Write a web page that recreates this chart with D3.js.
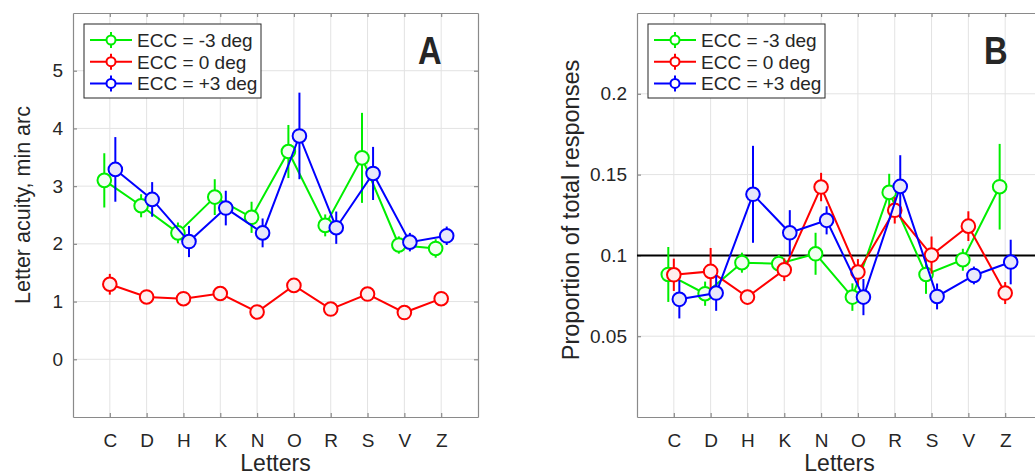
<!DOCTYPE html>
<html>
<head>
<meta charset="utf-8">
<script src="https://cdn.jsdelivr.net/npm/d3@7"></script>
<style>
  html, body { margin: 0; padding: 0; background: #ffffff; }
  svg { display: block; }
  text { font-family: "Liberation Sans", Arial, Helvetica, sans-serif; fill: #262626; }
</style>
</head>
<body>
<svg id="chart" width="1035" height="475"></svg>
<script>
// Letters tested
const letters = ["C", "D", "H", "K", "N", "O", "R", "S", "V", "Z"];

// Panel A: letter acuity (min arc), mean and error half-width per eccentricity
const acuityMinus3 = [3.10, 2.66, 2.19, 2.81, 2.46, 3.60, 2.32, 3.49, 1.98, 1.92];
const acuityMinus3Err = [0.47, 0.20, 0.18, 0.31, 0.27, 0.46, 0.19, 0.78, 0.15, 0.16];
const acuityZero = [1.30, 1.08, 1.05, 1.14, 0.82, 1.28, 0.87, 1.13, 0.81, 1.05];
const acuityZeroErr = [0.18, 0.06, 0.05, 0.06, 0.05, 0.06, 0.05, 0.06, 0.05, 0.06];
const acuityPlus3 = [3.29, 2.77, 2.04, 2.62, 2.19, 3.87, 2.28, 3.22, 2.03, 2.14];
const acuityPlus3Err = [0.56, 0.30, 0.27, 0.30, 0.25, 0.75, 0.28, 0.46, 0.16, 0.16];

// Panel B: proportion of total responses per letter
const propMinus3 = [0.0882, 0.0763, 0.0955, 0.0949, 0.1010, 0.0742, 0.1390, 0.0882, 0.0973, 0.1425];
const propMinus3Err = [0.0170, 0.0075, 0.0062, 0.0055, 0.0130, 0.0085, 0.0115, 0.0120, 0.0068, 0.0265];
const propZero = [0.0880, 0.0901, 0.0742, 0.0911, 0.1423, 0.0897, 0.1279, 0.1002, 0.1181, 0.0767];
const propZeroErr = [0.0100, 0.0145, 0.0045, 0.0070, 0.0088, 0.0080, 0.0082, 0.0115, 0.0092, 0.0068];
const propPlus3 = [0.0728, 0.0767, 0.1378, 0.1140, 0.1217, 0.0742, 0.1427, 0.0746, 0.0876, 0.0959];
const propPlus3Err = [0.0118, 0.0110, 0.0300, 0.0140, 0.0087, 0.0112, 0.0193, 0.0080, 0.0055, 0.0138];

// Legend labels and axis ticks
const seriesNames = ["ECC = -3 deg", "ECC = 0 deg", "ECC = +3 deg"];
const acuityTicks = [0, 1, 2, 3, 4, 5];
const propTicks = [0.05, 0.1, 0.15, 0.2];
const chanceLevel = 0.1;

const palette = [
  { stroke: "#00ee00", fill: "#f2fff2", offset: -0.15 },
  { stroke: "#ff0000", fill: "#fff0f0", offset: 0 },
  { stroke: "#0000ff", fill: "#e8e8fa", offset: 0.15 }
];

const svg = d3.select("#chart");

function drawPanel(opt) {
  const x = d3.scaleLinear().domain([0, 11]).range([opt.left, opt.left + 405]);
  const y = d3.scaleLinear().domain(opt.yDomain).range([417, 13]);
  const g = svg.append("g");
  const xl = x.range()[0], xr = x.range()[1];
  const yb = 417, yt = 13;
  const xPos = letters.map((d, i) => i + 1);

  // grid
  g.append("g").selectAll("line").data(xPos).join("line")
    .attr("x1", d => x(d)).attr("x2", d => x(d)).attr("y1", yt).attr("y2", yb)
    .attr("stroke", "#e3e3e3").attr("stroke-width", 1);
  g.append("g").selectAll("line").data(opt.ticks).join("line")
    .attr("x1", xl).attr("x2", xr).attr("y1", d => y(d)).attr("y2", d => y(d))
    .attr("stroke", "#e3e3e3").attr("stroke-width", 1);

  // axes with inward ticks
  const axB = d3.axisBottom(x).tickValues(xPos).tickFormat((d, i) => letters[i]).tickSizeInner(-4).tickSizeOuter(0).tickPadding(17);
  const axL = d3.axisLeft(y).tickValues(opt.ticks).tickFormat(opt.fmt).tickSizeInner(-4).tickSizeOuter(0).tickPadding(10);
  const axT = d3.axisTop(x).tickValues(xPos).tickFormat("").tickSizeInner(-4).tickSizeOuter(0);
  const axR = d3.axisRight(y).tickValues(opt.ticks).tickFormat("").tickSizeInner(-4).tickSizeOuter(0);

  const styleAxis = sel => {
    sel.select(".domain").attr("stroke", "#8a8a8a").attr("stroke-width", 1.2);
    sel.selectAll(".tick line").attr("stroke", "#8a8a8a").attr("stroke-width", 1.2);
    sel.selectAll(".tick text").attr("font-size", 19).attr("fill", "#262626")
      .attr("font-family", "Liberation Sans, Arial, sans-serif");
  };
  g.append("g").attr("transform", `translate(0,${yb})`).call(axB).call(styleAxis);
  g.append("g").attr("transform", `translate(${xl},0)`).call(axL).call(styleAxis);
  g.append("g").attr("transform", `translate(0,${yt})`).call(axT).call(styleAxis);
  if (opt.rightBorder) g.append("g").attr("transform", `translate(${xr},0)`).call(axR).call(styleAxis);

  // reference line
  if (opt.refLine !== undefined) {
    g.append("line").attr("x1", xl).attr("x2", xr)
      .attr("y1", y(opt.refLine)).attr("y2", y(opt.refLine))
      .attr("stroke", "#000").attr("stroke-width", 2);
  }

  // series: line, error bars, markers
  opt.series.forEach((s, k) => {
    const c = palette[k];
    const pts = s.values.map((v, i) => ({ x: xPos[i] + c.offset, v, e: s.err[i] }));
    const sg = g.append("g");
    sg.append("path").datum(pts)
      .attr("d", d3.line().x(d => x(d.x)).y(d => y(d.v)))
      .attr("fill", "none").attr("stroke", c.stroke).attr("stroke-width", 2);
    sg.selectAll("line.err").data(pts).join("line").attr("class", "err")
      .attr("x1", d => x(d.x)).attr("x2", d => x(d.x))
      .attr("y1", d => y(d.v - d.e)).attr("y2", d => y(d.v + d.e))
      .attr("stroke", c.stroke).attr("stroke-width", 2);
    sg.selectAll("circle").data(pts).join("circle")
      .attr("cx", d => x(d.x)).attr("cy", d => y(d.v)).attr("r", 6.8)
      .attr("fill", c.fill).attr("stroke", c.stroke).attr("stroke-width", 2);
  });

  // legend
  const lx = xl + 11, ly = yt + 11;
  const lg = g.append("g").attr("transform", `translate(${lx},${ly})`);
  lg.append("rect").attr("x", 0).attr("y", 0).attr("width", 177).attr("height", 74)
    .attr("fill", "#fff").attr("stroke", "#262626").attr("stroke-width", 1);
  seriesNames.forEach((name, k) => {
    const c = palette[k];
    const cy = 16 + k * 21.7;
    lg.append("line").attr("x1", 6).attr("x2", 48).attr("y1", cy).attr("y2", cy)
      .attr("stroke", c.stroke).attr("stroke-width", 2);
    lg.append("line").attr("x1", 27).attr("x2", 27).attr("y1", cy - 8).attr("y2", cy + 8)
      .attr("stroke", c.stroke).attr("stroke-width", 2);
    lg.append("circle").attr("cx", 27).attr("cy", cy).attr("r", 4.5)
      .attr("fill", "#fff").attr("stroke", c.stroke).attr("stroke-width", 2);
    lg.append("text").attr("x", 53).attr("y", cy).attr("dy", "0.36em")
      .attr("font-size", 19).attr("fill", "#000").text(name);
  });

  // panel letter (bold, slightly condensed)
  g.append("text").attr("transform", `translate(${opt.tagX},64) scale(0.84,1)`)
    .attr("font-family", "DejaVu Sans, sans-serif").attr("font-weight", "bold")
    .attr("font-size", 39).attr("fill", "#000").text(opt.tag);

  // axis titles
  g.append("text").attr("x", (xl + xr) / 2).attr("y", 471).attr("text-anchor", "middle")
    .attr("font-size", 23).text("Letters");
  g.append("text").attr("transform", `translate(${opt.yLabelX},${opt.yLabelY}) rotate(-90)`)
    .attr("text-anchor", "middle").attr("font-size", opt.yLabelSize).text(opt.yLabel);
}

drawPanel({
  left: 73, yDomain: [-1, 6], ticks: acuityTicks, fmt: d3.format("d"),
  series: [
    { values: acuityMinus3, err: acuityMinus3Err },
    { values: acuityZero, err: acuityZeroErr },
    { values: acuityPlus3, err: acuityPlus3Err }
  ],
  rightBorder: true, tag: "A", tagX: 418,
  yLabel: "Letter acuity, min arc", yLabelX: 30, yLabelY: 205, yLabelSize: 21.5
});

drawPanel({
  left: 637, yDomain: [0, 0.25], ticks: propTicks, fmt: d => d3.format("")(+d.toFixed(2)),
  series: [
    { values: propMinus3, err: propMinus3Err },
    { values: propZero, err: propZeroErr },
    { values: propPlus3, err: propPlus3Err }
  ],
  rightBorder: false, refLine: chanceLevel, tag: "B", tagX: 984,
  yLabel: "Proportion of total responses", yLabelX: 579, yLabelY: 210, yLabelSize: 23.5
});
</script>
</body>
</html>
